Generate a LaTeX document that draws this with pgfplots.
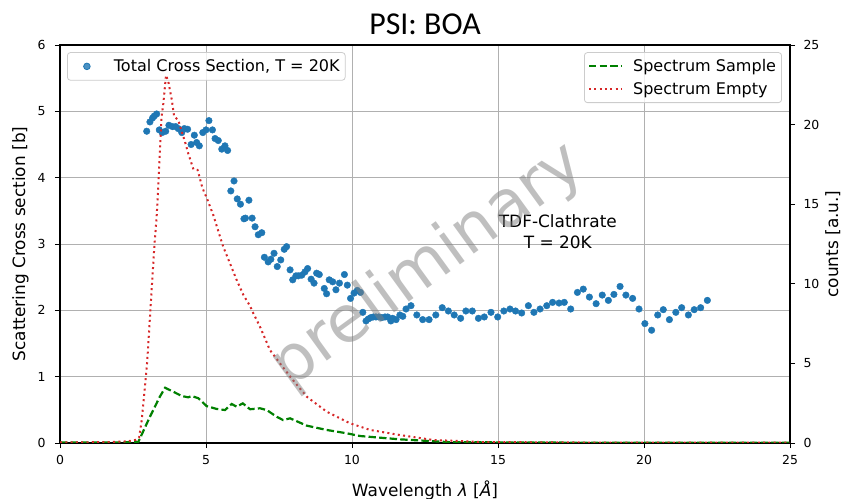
\documentclass[border=0pt]{standalone}
\usepackage{fontspec}
\setmainfont{DejaVu Sans}
\newfontfamily\titlefont{Carlito}
\usepackage{pgfplots}
\usepackage{pgfplotstable}
\pgfplotsset{compat=1.18}
\definecolor{tabblue}{HTML}{1F77B4}
\definecolor{mplgreen}{HTML}{008000}
\definecolor{tabred}{HTML}{D62728}
\definecolor{gridgray}{HTML}{B0B0B0}
\definecolor{legframe}{HTML}{CCCCCC}

\pgfplotstableread{
x y
2.97 4.70
3.08 4.84
3.17 4.90
3.23 4.93
3.31 4.96
3.40 4.72
3.50 4.68
3.62 4.70
3.73 4.79
3.85 4.77
3.96 4.77
4.05 4.74
4.17 4.68
4.26 4.74
4.37 4.73
4.49 4.50
4.60 4.64
4.68 4.53
4.77 4.48
4.89 4.68
5.00 4.72
5.10 4.86
5.22 4.72
5.31 4.59
5.42 4.56
5.54 4.43
5.65 4.48
5.74 4.41
5.85 3.80
5.96 3.95
6.07 3.68
6.18 3.60
6.30 3.38
6.35 3.39
6.47 3.66
6.58 3.39
6.68 3.26
6.79 3.14
6.91 3.17
7.00 2.80
7.13 2.73
7.22 2.77
7.33 2.86
7.44 2.66
7.56 2.76
7.68 2.92
7.76 2.96
7.88 2.61
7.97 2.46
8.08 2.52
8.16 2.52
8.28 2.53
8.39 2.58
8.48 2.63
8.60 2.47
8.70 2.41
8.79 2.56
8.88 2.54
9.05 2.33
9.13 2.25
9.22 2.46
9.34 2.43
9.45 2.31
9.57 2.41
9.74 2.54
9.84 2.38
9.95 2.18
10.07 2.26
10.18 2.30
10.29 2.27
10.37 1.97
10.48 1.84
10.56 1.87
10.64 1.89
10.73 1.90
10.82 1.90
10.92 1.90
11.02 1.89
11.13 1.90
11.22 1.90
11.33 1.84
11.39 1.88
11.51 1.86
11.64 1.93
11.74 1.91
11.85 2.02
12.02 2.07
12.22 1.93
12.42 1.86
12.64 1.86
12.87 1.93
13.09 2.04
13.30 1.99
13.50 1.93
13.72 1.88
13.90 1.99
14.12 1.99
14.33 1.88
14.53 1.90
14.76 1.97
14.99 1.90
15.20 1.99
15.41 2.02
15.60 1.99
15.81 1.96
16.04 2.07
16.23 1.97
16.44 2.02
16.67 2.07
16.87 2.12
17.09 2.11
17.27 2.12
17.49 2.02
17.72 2.27
17.92 2.32
18.13 2.20
18.36 2.10
18.57 2.23
18.78 2.15
18.97 2.24
19.18 2.36
19.38 2.23
19.61 2.18
19.83 2.02
20.03 1.80
20.26 1.70
20.47 1.93
20.66 2.01
20.87 1.86
21.09 1.97
21.29 2.04
21.52 1.93
21.72 2.01
21.94 2.04
22.17 2.15
}\scatterdata

\pgfplotstableread{
x y
0.00 0.04
1.50 0.05
2.30 0.10
2.60 0.20
2.71 0.35
2.80 1.44
2.91 3.54
2.99 5.21
3.23 12.33
3.31 14.21
3.37 16.31
3.42 18.40
3.48 20.50
3.54 21.34
3.63 23.10
3.71 22.70
3.83 21.54
3.91 20.50
4.05 20.29
4.17 19.55
4.28 18.93
4.39 18.20
4.57 17.19
4.71 17.15
4.77 16.77
4.85 16.20
4.93 15.78
5.02 15.43
5.14 14.84
5.25 14.32
5.39 13.49
5.48 12.96
5.59 12.33
5.82 11.29
6.05 10.24
6.28 9.30
6.51 8.60
6.62 8.15
6.85 7.30
7.19 5.84
7.53 5.01
7.93 4.06
8.45 2.91
9.13 1.97
9.93 1.24
10.62 0.82
11.64 0.50
12.78 0.19
14.49 0.06
18.00 0.03
25.00 0.02
}\emptydata

\pgfplotstableread{
x y
0.00 0.03
2.00 0.04
2.68 0.06
3.08 1.65
3.42 2.91
3.60 3.47
3.88 3.22
4.17 2.95
4.39 2.87
4.51 2.95
4.74 2.81
5.02 2.32
5.36 2.14
5.65 2.07
5.88 2.45
6.05 2.28
6.26 2.49
6.51 2.12
6.85 2.18
7.08 2.07
7.42 1.65
7.64 1.44
7.88 1.55
8.45 1.09
9.13 0.82
9.82 0.61
10.27 0.44
11.64 0.23
13.36 0.05
18.00 0.02
25.00 0.02
}\sampledata

\begin{document}
\begin{tikzpicture}
\useasboundingbox (-60bp,-56bp) rectangle (782bp,443bp);
\pgfplotsset{
  common/.style={
    scale only axis, width=730bp, height=398bp,
    xmin=0, xmax=25,
    tick align=outside, major tick length=5bp,
    tick style={black, line width=0.9bp},
    axis line style={black, line width=1.1bp},
    ticklabel style={font=\fontsize{12.5}{15}\selectfont},
    /pgf/number format/assume math mode=true,
    label style={font=\fontsize{17}{20}\selectfont},
    legend cell align=left,
    legend image code/.code={\pgfpathrectangle{\pgfpoint{0bp}{-3bp}}{\pgfpoint{32bp}{6bp}}\pgfusepath{discard}\draw[mark repeat=2,mark phase=2,##1] plot coordinates {(0bp,0bp) (16bp,0bp) (32bp,0bp)};},
  },
  legbox/.style={draw=legframe, line width=0.8bp, rounded corners=3bp, fill=white, fill opacity=0.8, text opacity=1,
    font=\fontsize{16.1}{19}\selectfont, inner xsep=3.5bp, inner ysep=5bp, column sep=9bp, row sep=5bp},
}
\begin{axis}[common,
  ymin=0, ymax=6,
  xtick={0,5,...,25}, ytick={0,1,...,6},
  xtick pos=bottom, ytick pos=left,
  xticklabel style={yshift=-4bp},
  yticklabel style={xshift=-6bp},
  grid=major, grid style={gridgray, line width=0.8bp},
  xlabel={Wavelength \textit{λ} [\textit{Å}]},
  xlabel style={yshift=-9bp},
  ylabel={Scattering Cross section [b]},
  ylabel style={yshift=2bp},
  legend style={legbox, at={(axis description cs:0.0096,0.982)}, anchor=north west},
]
\addplot[only marks, mark=*, mark size=3.3bp, color=tabblue, mark options={draw=tabblue, fill=tabblue}] table {\scatterdata};
\addlegendentry{Total Cross Section, T = 20K}
\node[align=center, font=\fontsize{17}{21}\selectfont, inner sep=0pt] at (axis cs:17.05,3.18) {TDF-Clathrate\\T = 20K};
\end{axis}
\begin{axis}[common,
  ymin=0, ymax=25,
  axis x line=none, axis y line*=right,
  ytick={0,5,...,25},
  yticklabel style={xshift=5bp},
  ylabel={counts [a.u.]},
  ylabel style={yshift=1bp},
  legend style={legbox, at={(axis description cs:0.989,0.982)}, anchor=north east},
]
\addplot[mplgreen, line width=2.2bp, dash pattern=on 7.4bp off 3.2bp] table {\sampledata};
\addlegendentry{Spectrum Sample}
\addplot[tabred, line width=2bp, dash pattern=on 2bp off 3.3bp] table {\emptydata};
\addlegendentry{Spectrum Empty}
\node[rotate=36, text=gray, text opacity=0.5, font=\fontsize{65}{75}\selectfont] at (axis cs:12.6,11.1) {preliminary};
\end{axis}
\node[font=\titlefont\fontsize{32}{38}\selectfont, anchor=base] at (365bp,408bp) {PSI: BOA};
\end{tikzpicture}
\end{document}
